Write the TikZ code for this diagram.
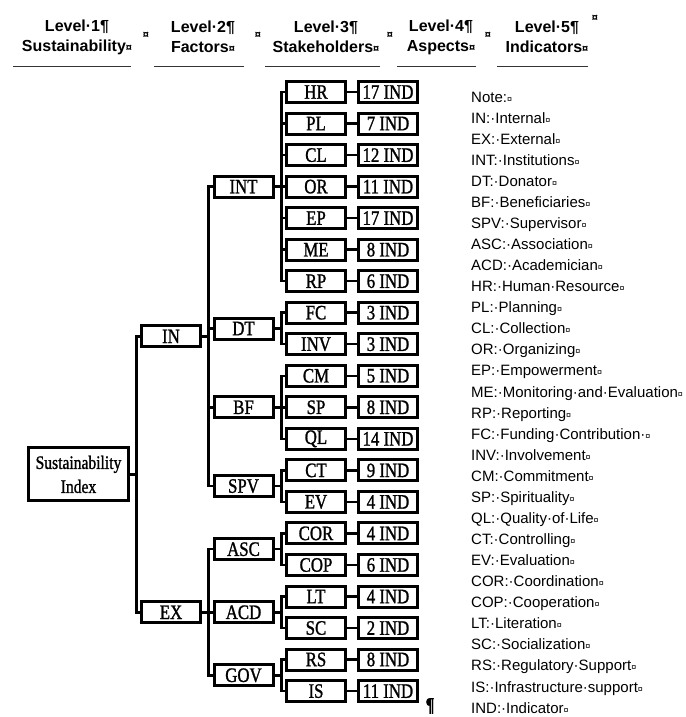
\documentclass[tikz,border=0pt]{standalone}
\usepackage{fontspec}
\usetikzlibrary{shadows}
\setmainfont{Liberation Serif}
\newfontfamily\boxfont[FakeStretch=0.82,FakeBold=1.2]{Liberation Serif}
\newfontfamily\notefont{Liberation Sans}
\newcommand{\cellmark}{{\fontsize{9}{9}\selectfont ¤}}
\begin{document}
\begin{tikzpicture}[x=1pt, y=-1pt,
	box/.style={shape=rectangle, draw=black, fill=white, line width=3pt, minimum width=59pt, minimum height=21pt, inner sep=0pt, font=\boxfont\fontsize{20.5}{20.5}\selectfont,
		drop shadow={shadow xshift=1.2pt, shadow yshift=-1.2pt, fill=black, opacity=0.45}},
	link/.style={draw=black, line width=2.5pt},
	level/.style={align=center, inner sep=0pt, font=\notefont\bfseries\fontsize{16}{20}\selectfont},
	sepmark/.style={inner sep=0pt, font=\notefont\bfseries\fontsize{11}{11}\selectfont},
	note/.style={anchor=base west, inner sep=0pt, font=\notefont\fontsize{15}{15}\selectfont},
	headrule/.style={draw=black!80, line width=0.9pt}]
			\useasboundingbox (0,0) rectangle (685,717);
			%Header:
			\path
				(77, 37) node[level] (h1) {Level·1¶\\Sustainability{\fontsize{11}{11}\selectfont ¤}}
				(203, 37) node[level] (h2) {Level·2¶\\Factors{\fontsize{11}{11}\selectfont ¤}}
				(326, 37) node[level] (h3) {Level·3¶\\Stakeholders{\fontsize{11}{11}\selectfont ¤}}
				(441, 37) node[level] (h4) {Level·4¶\\Aspects{\fontsize{11}{11}\selectfont ¤}}
				(547, 37) node[level] (h5) {Level·5¶\\Indicators{\fontsize{11}{11}\selectfont ¤}}
				(146, 35) node[sepmark] (s1) {¤}
				(258, 35) node[sepmark] (s2) {¤}
				(390, 35) node[sepmark] (s3) {¤}
				(488, 35) node[sepmark] (s4) {¤}
				(595, 18) node[sepmark] (s5) {¤};
			\draw[headrule] (13,66) -- (131,66);
			\draw[headrule] (154,66) -- (244,66);
			\draw[headrule] (265,66) -- (380,66);
			\draw[headrule] (397,66) -- (476,66);
			\draw[headrule] (497,66) -- (588,66);
			%Level 1 and level 2:
			\path
				(78.5, 474.4) node[box, minimum width=100pt, minimum height=53pt, align=center, font=\boxfont\fontsize{19}{24}\selectfont] (SI) {Sustainability\\Index}
				(171, 336.4) node[box] (IN) {IN}
				(171, 612.3) node[box] (EX) {EX};
			%Level 3 stakeholders:
			\path
				(243.5, 186.6) node[box] (INT) {INT}
				(243.5, 328.5) node[box] (DT) {DT}
				(243.5, 407.3) node[box] (BF) {BF}
				(243.5, 486.1) node[box] (SPV) {SPV}
				(243.5, 549.2) node[box] (ASC) {ASC}
				(243.5, 612.3) node[box] (ACD) {ACD}
				(243.5, 675.3) node[box] (GOV) {GOV};
			%Level 4 aspects:
			\path
				(316, 92.0) node[box] (HR) {HR}
				(316, 123.5) node[box] (PL) {PL}
				(316, 155.1) node[box] (CL) {CL}
				(316, 186.6) node[box] (OR) {OR}
				(316, 218.1) node[box] (EP) {EP}
				(316, 249.7) node[box] (ME) {ME}
				(316, 281.2) node[box] (RP) {RP}
				(316, 312.7) node[box] (FC) {FC}
				(316, 344.2) node[box] (INV) {INV}
				(316, 375.8) node[box] (CM) {CM}
				(316, 407.3) node[box] (SP) {SP}
				(316, 438.8) node[box] (QL) {QL}
				(316, 470.4) node[box] (CT) {CT}
				(316, 501.9) node[box] (EV) {EV}
				(316, 533.4) node[box] (COR) {COR}
				(316, 565.0) node[box] (COP) {COP}
				(316, 596.5) node[box] (LT) {LT}
				(316, 628.0) node[box] (SC) {SC}
				(316, 659.5) node[box] (RS) {RS}
				(316, 691.1) node[box] (IS) {IS};
			%Level 5 indicators:
			\path
				(388, 92.0) node[box] (nHR) {17 IND}
				(388, 123.5) node[box] (nPL) {7 IND}
				(388, 155.1) node[box] (nCL) {12 IND}
				(388, 186.6) node[box] (nOR) {11 IND}
				(388, 218.1) node[box] (nEP) {17 IND}
				(388, 249.7) node[box] (nME) {8 IND}
				(388, 281.2) node[box] (nRP) {6 IND}
				(388, 312.7) node[box] (nFC) {3 IND}
				(388, 344.2) node[box] (nINV) {3 IND}
				(388, 375.8) node[box] (nCM) {5 IND}
				(388, 407.3) node[box] (nSP) {8 IND}
				(388, 438.8) node[box] (nQL) {14 IND}
				(388, 470.4) node[box] (nCT) {9 IND}
				(388, 501.9) node[box] (nEV) {4 IND}
				(388, 533.4) node[box] (nCOR) {4 IND}
				(388, 565.0) node[box] (nCOP) {6 IND}
				(388, 596.5) node[box] (nLT) {4 IND}
				(388, 628.0) node[box] (nSC) {2 IND}
				(388, 659.5) node[box] (nRS) {8 IND}
				(388, 691.1) node[box] (nIS) {11 IND}
				(430, 706) node[inner sep=0pt, font=\boxfont\bfseries\fontsize{20}{20}\selectfont] (pilcrow) {¶};
			%Links:
			\draw[link] (SI.east) -- ++(6.5,0) |- (IN.west) (SI.east) -- ++(6.5,0) |- (EX.west);
			\draw[link] (IN.east) -- ++(6.5,0) |- (INT.west) (IN.east) -- ++(6.5,0) |- (DT.west)
				(IN.east) -- ++(6.5,0) |- (BF.west) (IN.east) -- ++(6.5,0) |- (SPV.west);
			\draw[link] (EX.east) -- ++(6.5,0) |- (ASC.west) (EX.east) -- ++(6.5,0) |- (ACD.west)
				(EX.east) -- ++(6.5,0) |- (GOV.west);
			\draw[link] (INT.east) -- ++(7,0) |- (HR.west) (INT.east) -- ++(7,0) |- (PL.west)
				(INT.east) -- ++(7,0) |- (CL.west) (INT.east) -- ++(7,0) |- (OR.west)
				(INT.east) -- ++(7,0) |- (EP.west) (INT.east) -- ++(7,0) |- (ME.west)
				(INT.east) -- ++(7,0) |- (RP.west);
			\draw[link] (DT.east) -- ++(7,0) |- (FC.west) (DT.east) -- ++(7,0) |- (INV.west);
			\draw[link] (BF.east) -- ++(7,0) |- (CM.west) (BF.east) -- ++(7,0) |- (SP.west)
				(BF.east) -- ++(7,0) |- (QL.west);
			\draw[link] (SPV.east) -- ++(7,0) |- (CT.west) (SPV.east) -- ++(7,0) |- (EV.west);
			\draw[link] (ASC.east) -- ++(7,0) |- (COR.west) (ASC.east) -- ++(7,0) |- (COP.west);
			\draw[link] (ACD.east) -- ++(7,0) |- (LT.west) (ACD.east) -- ++(7,0) |- (SC.west);
			\draw[link] (GOV.east) -- ++(7,0) |- (RS.west) (GOV.east) -- ++(7,0) |- (IS.west);
			\draw[link] (HR) -- (nHR) (PL) -- (nPL) (CL) -- (nCL) (OR) -- (nOR) (EP) -- (nEP)
				(ME) -- (nME) (RP) -- (nRP) (FC) -- (nFC) (INV) -- (nINV) (CM) -- (nCM)
				(SP) -- (nSP) (QL) -- (nQL) (CT) -- (nCT) (EV) -- (nEV) (COR) -- (nCOR)
				(COP) -- (nCOP) (LT) -- (nLT) (SC) -- (nSC) (RS) -- (nRS) (IS) -- (nIS);
			%Note:
			\path
				(471, 102.0) node[note] (t0) {Note:\cellmark}
				(471, 123.1) node[note] (t1) {IN:·Internal\cellmark}
				(471, 144.1) node[note] (t2) {EX:·External\cellmark}
				(471, 165.2) node[note] (t3) {INT:·Institutions\cellmark}
				(471, 186.3) node[note] (t4) {DT:·Donator\cellmark}
				(471, 207.4) node[note] (t5) {BF:·Beneficiaries\cellmark}
				(471, 228.4) node[note] (t6) {SPV:·Supervisor\cellmark}
				(471, 249.5) node[note] (t7) {ASC:·Association\cellmark}
				(471, 270.6) node[note] (t8) {ACD:·Academician\cellmark}
				(471, 291.6) node[note] (t9) {HR:·Human·Resource\cellmark}
				(471, 312.7) node[note] (t10) {PL:·Planning\cellmark}
				(471, 333.8) node[note] (t11) {CL:·Collection\cellmark}
				(471, 354.8) node[note] (t12) {OR:·Organizing\cellmark}
				(471, 375.9) node[note] (t13) {EP:·Empowerment\cellmark}
				(471, 397.0) node[note] (t14) {ME:·Monitoring·and·Evaluation\cellmark}
				(471, 418.1) node[note] (t15) {RP:·Reporting\cellmark}
				(471, 439.1) node[note] (t16) {FC:·Funding·Contribution·\cellmark}
				(471, 460.2) node[note] (t17) {INV:·Involvement\cellmark}
				(471, 481.3) node[note] (t18) {CM:·Commitment\cellmark}
				(471, 502.3) node[note] (t19) {SP:·Spirituality\cellmark}
				(471, 523.4) node[note] (t20) {QL:·Quality·of·Life\cellmark}
				(471, 544.5) node[note] (t21) {CT:·Controlling\cellmark}
				(471, 565.5) node[note] (t22) {EV:·Evaluation\cellmark}
				(471, 586.6) node[note] (t23) {COR:·Coordination\cellmark}
				(471, 607.7) node[note] (t24) {COP:·Cooperation\cellmark}
				(471, 628.8) node[note] (t25) {LT:·Literation\cellmark}
				(471, 649.8) node[note] (t26) {SC:·Socialization\cellmark}
				(471, 670.9) node[note] (t27) {RS:·Regulatory·Support\cellmark}
				(471, 692.0) node[note] (t28) {IS:·Infrastructure·support\cellmark}
				(471, 713.0) node[note] (t29) {IND:·Indicator\cellmark};
			\end{tikzpicture}
\end{document}
